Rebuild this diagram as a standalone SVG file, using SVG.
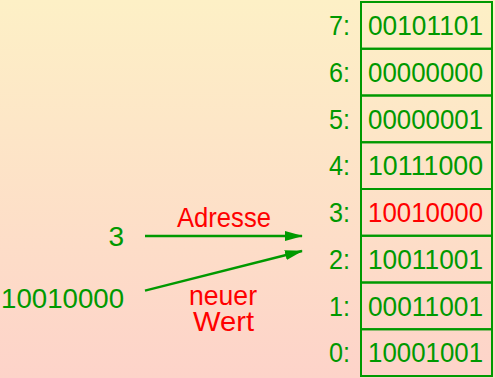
<svg xmlns="http://www.w3.org/2000/svg" width="495" height="378" viewBox="0 0 495 378">
<defs>
<linearGradient id="bg" x1="0" y1="0" x2="0" y2="1">
<stop offset="0" stop-color="#fdf0c6"/>
<stop offset="1" stop-color="#fdd3c9"/>
</linearGradient>
<marker id="ah" markerWidth="18" markerHeight="10" refX="17" refY="5" orient="auto" markerUnits="userSpaceOnUse">
<path d="M0,0 L18,5 L0,10 Z" fill="#009900"/>
</marker>
<style>
text{font-family:"Liberation Sans",Arial,sans-serif;font-size:28px}
.g{fill:#009900}
.r{fill:#ff0000}
.cell{fill:none;stroke:#009900;stroke-width:2}
.idx{text-anchor:end}
.conn{stroke:#009900;stroke-width:2.4;fill:none;marker-end:url(#ah)}
</style>
</defs>
<rect width="495" height="378" fill="url(#bg)"/>
<g id="memory">
<g id="cell7"><rect class="cell" x="361" y="2" width="131" height="46.75"/><text class="g" x="329" y="35" textLength="21" lengthAdjust="spacingAndGlyphs">7:</text><text class="g" x="368" y="35" textLength="115" lengthAdjust="spacingAndGlyphs">00101101</text></g>
<g id="cell6"><rect class="cell" x="361" y="48.75" width="131" height="46.75"/><text class="g" x="329" y="81.8" textLength="21" lengthAdjust="spacingAndGlyphs">6:</text><text class="g" x="368" y="81.8" textLength="115" lengthAdjust="spacingAndGlyphs">00000000</text></g>
<g id="cell5"><rect class="cell" x="361" y="95.5" width="131" height="46.75"/><text class="g" x="329" y="128.5" textLength="21" lengthAdjust="spacingAndGlyphs">5:</text><text class="g" x="368" y="128.5" textLength="115" lengthAdjust="spacingAndGlyphs">00000001</text></g>
<g id="cell4"><rect class="cell" x="361" y="142.25" width="131" height="46.75"/><text class="g" x="329" y="175.3" textLength="21" lengthAdjust="spacingAndGlyphs">4:</text><text class="g" x="368" y="175.3" textLength="115" lengthAdjust="spacingAndGlyphs">10111000</text></g>
<g id="cell3"><rect class="cell" x="361" y="189" width="131" height="46.75"/><text class="g" x="329" y="222" textLength="21" lengthAdjust="spacingAndGlyphs">3:</text><text class="r" x="368" y="222" textLength="115" lengthAdjust="spacingAndGlyphs">10010000</text></g>
<g id="cell2"><rect class="cell" x="361" y="235.75" width="131" height="46.75"/><text class="g" x="329" y="268.8" textLength="21" lengthAdjust="spacingAndGlyphs">2:</text><text class="g" x="368" y="268.8" textLength="115" lengthAdjust="spacingAndGlyphs">10011001</text></g>
<g id="cell1"><rect class="cell" x="361" y="282.5" width="131" height="46.75"/><text class="g" x="329" y="315.5" textLength="21" lengthAdjust="spacingAndGlyphs">1:</text><text class="g" x="368" y="315.5" textLength="115" lengthAdjust="spacingAndGlyphs">00011001</text></g>
<g id="cell0"><rect class="cell" x="361" y="329.25" width="131" height="46.75"/><text class="g" x="329" y="362.3" textLength="21" lengthAdjust="spacingAndGlyphs">0:</text><text class="g" x="368" y="362.3" textLength="115" lengthAdjust="spacingAndGlyphs">10001001</text></g>
</g>
<g id="address"><text class="g" x="124" y="246" text-anchor="end">3</text></g>
<g id="value"><text class="g" x="1" y="308" textLength="123" lengthAdjust="spacingAndGlyphs">10010000</text></g>
<g id="connectors">
<line class="conn" x1="145" y1="236" x2="302" y2="236"/>
<line class="conn" x1="145" y1="290.7" x2="302" y2="251"/>
<text class="r" x="177" y="227" textLength="94" lengthAdjust="spacingAndGlyphs">Adresse</text>
<text class="r" x="189" y="305" textLength="68" lengthAdjust="spacingAndGlyphs">neuer</text>
<text class="r" x="193" y="331" textLength="61" lengthAdjust="spacingAndGlyphs">Wert</text>
</g>
</svg>
